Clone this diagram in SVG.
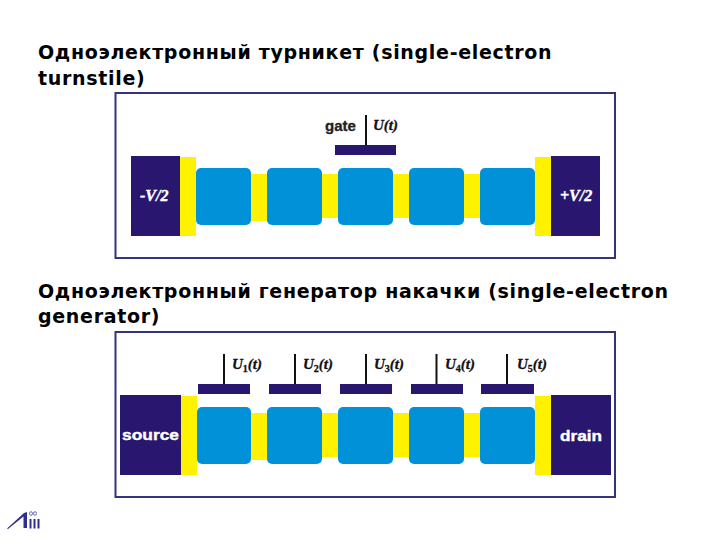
<svg xmlns="http://www.w3.org/2000/svg" width="720" height="540" viewBox="0 0 720 540">
<style>
.title{font:bold 19px "DejaVu Sans",sans-serif;fill:#000;letter-spacing:.69px}
.frame{fill:#fff;stroke:#333380;stroke-width:2}
.pad{fill:#28166f}
.gatebar{fill:#28166f}
.y{fill:#fff200}
.isl{fill:#0091d9}
.wire{stroke:#111;stroke-width:2;fill:none}
.ser{font:italic bold 15px "Liberation Serif",serif;fill:#111;stroke:#111;stroke-width:.3}
.ser tspan.s{font-size:10px;font-style:normal}
.ser tspan.p{font-size:15px}
.w{font:italic bold 16px "Liberation Serif",serif;fill:#fff;stroke:#fff;stroke-width:.4}
.sans{font:bold 14px "Liberation Sans",sans-serif;fill:#222;stroke:#222;stroke-width:.3}
.sansw{font:bold 15.500px "Liberation Sans",sans-serif;fill:#fff;stroke:#fff;stroke-width:.4}
.logo{fill:#2f2f8f}
</style>
<rect width="720" height="540" fill="#fff"/>
<text class="title" x="38" y="59">Одноэлектронный турникет (single-electron</text>
<text class="title" x="38" y="85">turnstile)</text>
<text class="title" x="38" y="298">Одноэлектронный генератор накачки (single-electron</text>
<text class="title" x="38" y="323">generator)</text>
<g id="turnstile">
<rect class="frame" x="115.5" y="93" width="499.5" height="165"/>
<g id="t-left-pad"><rect class="pad" x="131" y="156" width="49" height="80"/><text class="w" x="140" y="201">-V/2</text></g>
<g id="t-right-pad"><rect class="pad" x="551" y="156" width="49" height="80"/><text class="w" x="560" y="201">+V/2</text></g>
<g id="t-junctions">
<rect class="y" x="180" y="157" width="16" height="79"/>
<rect class="y" x="251" y="174" width="16" height="47"/>
<rect class="y" x="322" y="174" width="16" height="44"/>
<rect class="y" x="393" y="174" width="16" height="44"/>
<rect class="y" x="464" y="174" width="16" height="44"/>
<rect class="y" x="535" y="157" width="16" height="79"/>
</g>
<g id="t-islands">
<rect class="isl" x="196" y="168" width="55" height="57" rx="5"/>
<rect class="isl" x="267" y="168" width="55" height="57" rx="5"/>
<rect class="isl" x="338" y="168" width="55" height="57" rx="5"/>
<rect class="isl" x="409" y="168" width="55" height="57" rx="5"/>
<rect class="isl" x="480" y="168" width="55" height="57" rx="5"/>
</g>
<g id="t-gate">
<rect class="gatebar" x="335" y="145" width="61" height="10"/>
<text class="sans" x="325" y="131" textLength="31" lengthAdjust="spacingAndGlyphs">gate</text>
<text class="ser" x="373" y="130">U(t)</text>
</g>
</g>
<g id="generator">
<rect class="frame" x="115.5" y="332" width="499.5" height="165"/>
<g id="g-source"><rect class="pad" x="120" y="395" width="61" height="80"/><text class="sansw" x="122" y="439.500" textLength="57" lengthAdjust="spacingAndGlyphs">source</text></g>
<g id="g-drain"><rect class="pad" x="551" y="395" width="60" height="80"/><text class="sansw" x="560" y="440.500" textLength="42" lengthAdjust="spacingAndGlyphs">drain</text></g>
<g id="g-junctions">
<rect class="y" x="181" y="396" width="16" height="79"/>
<rect class="y" x="251" y="413" width="16" height="47"/>
<rect class="y" x="322" y="413" width="16" height="44"/>
<rect class="y" x="393" y="413" width="16" height="44"/>
<rect class="y" x="464" y="413" width="16" height="44"/>
<rect class="y" x="535" y="396" width="16" height="79"/>
</g>
<g id="g-islands">
<rect class="isl" x="197" y="407" width="54" height="57" rx="5"/>
<rect class="isl" x="267" y="407" width="55" height="57" rx="5"/>
<rect class="isl" x="338" y="407" width="55" height="57" rx="5"/>
<rect class="isl" x="409" y="407" width="55" height="57" rx="5"/>
<rect class="isl" x="480" y="407" width="55" height="57" rx="5"/>
</g>
<g id="g-gate1"><rect class="gatebar" x="198" y="384" width="52" height="10"/><text class="ser" x="232" y="369">U<tspan class="s" dy="3">1</tspan><tspan class="p" dy="-3">(t)</tspan></text></g>
<g id="g-gate2"><rect class="gatebar" x="269" y="384" width="52" height="10"/><text class="ser" x="303" y="369">U<tspan class="s" dy="3">2</tspan><tspan class="p" dy="-3">(t)</tspan></text></g>
<g id="g-gate3"><rect class="gatebar" x="340" y="384" width="52" height="10"/><text class="ser" x="374" y="369">U<tspan class="s" dy="3">3</tspan><tspan class="p" dy="-3">(t)</tspan></text></g>
<g id="g-gate4"><rect class="gatebar" x="411" y="384" width="52" height="10"/><text class="ser" x="445" y="369">U<tspan class="s" dy="3">4</tspan><tspan class="p" dy="-3">(t)</tspan></text></g>
<g id="g-gate5"><rect class="gatebar" x="481" y="384" width="53" height="10"/><text class="ser" x="517" y="369">U<tspan class="s" dy="3">5</tspan><tspan class="p" dy="-3">(t)</tspan></text></g>
</g>
<g id="connectors">
<line class="wire" x1="366" y1="115" x2="366" y2="145"/>
<line class="wire" x1="224" y1="354" x2="224" y2="384"/>
<line class="wire" x1="295" y1="354" x2="295" y2="384"/>
<line class="wire" x1="366" y1="354" x2="366" y2="384"/>
<line class="wire" x1="436.500" y1="354" x2="436.500" y2="384"/>
<line class="wire" x1="507" y1="354" x2="507" y2="384"/>
</g>
<g id="logo">
<path class="logo" d="M7 528.500 L24 513 L27 512 L27 528 L23.500 528 L23.500 516.500 L8 529Z"/>
<path class="logo" d="M29.500 519 H31.500 V528.500 H29.500Z"/>
<path class="logo" d="M33.500 519 H35.500 V528.500 H33.500Z"/>
<path class="logo" d="M37.500 519 H39.500 V528.500 H37.500Z"/>
<ellipse cx="31" cy="513.500" rx="1.500" ry="1.800" fill="none" stroke="#2f2f8f" stroke-width=".7"/>
<ellipse cx="35" cy="513.500" rx="1.500" ry="1.800" fill="none" stroke="#2f2f8f" stroke-width=".7"/>
</g>
</svg>
